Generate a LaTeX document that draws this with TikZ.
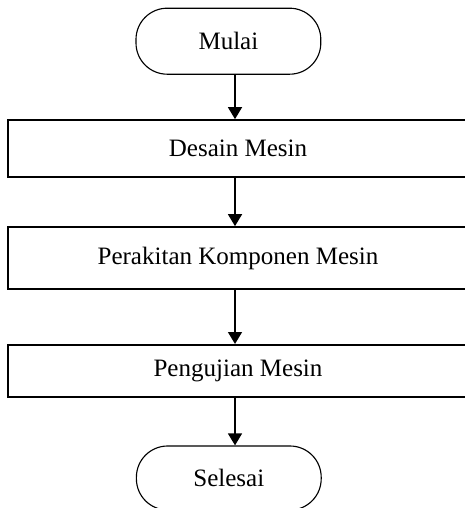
\documentclass[tikz,border=0pt]{standalone}
\usepackage{fontspec}
\setmainfont{Liberation Serif}
\usetikzlibrary{arrows.meta}

\begin{document}
\begin{tikzpicture}
  \tikzstyle{terminal} = [draw=black, line width=0.8pt, rounded corners=0.78cm, minimum width=4.62cm, font=\fontsize{17.8}{21}\selectfont]
  \tikzstyle{process} = [draw=black, line width=1.1pt, minimum width=11.5cm, font=\fontsize{17.8}{21}\selectfont]
  \tikzstyle{flow} = [line width=1.8pt, -{Triangle[length=0.3cm, width=0.34cm]}]

  \useasboundingbox (0,0) rectangle (11.6,-12.7);

  \node[terminal, minimum height=1.65cm] (mulai) at (5.71,-1.03) {Mulai};
  \node[process, minimum height=1.42cm] (desain) at (5.95,-3.71) {Desain Mesin};
  \node[process, minimum height=1.55cm] (rakit) at (5.95,-6.45) {Perakitan Komponen Mesin};
  \node[process, minimum height=1.3cm] (uji) at (5.95,-9.27) {Pengujian Mesin};
  \node[terminal, minimum height=1.6cm] (selesai) at (5.72,-11.95) {Selesai};
  \coordinate (axis) at (5.875,0);

  \draw[flow] (mulai.south -| axis) -- (desain.north -| axis);
  \draw[flow] (desain.south -| axis) -- (rakit.north -| axis);
  \draw[flow] (rakit.south -| axis) -- (uji.north -| axis);
  \draw[flow] (uji.south -| axis) -- (selesai.north -| axis);
\end{tikzpicture}
\end{document}
